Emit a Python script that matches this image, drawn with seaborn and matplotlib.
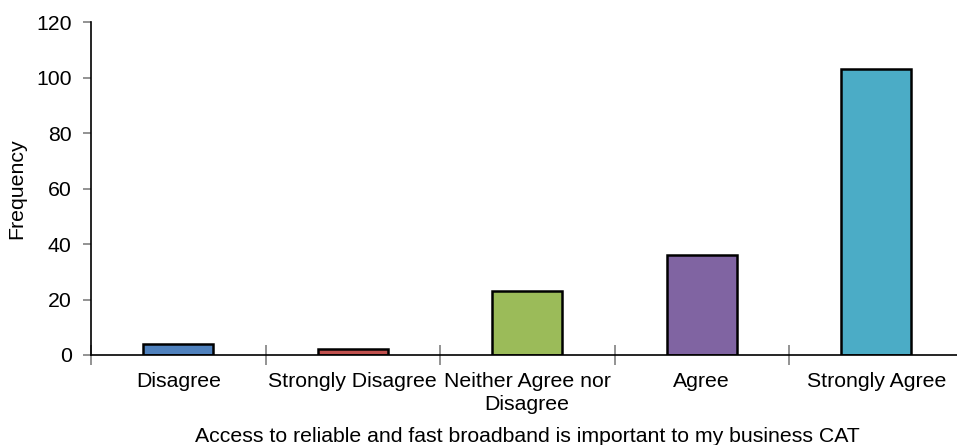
import matplotlib
matplotlib.use("Agg")
import matplotlib.pyplot as plt
import seaborn as sns
import pandas as pd

categories = ["Disagree", "Strongly Disagree", "Neither Agree nor\nDisagree", "Agree", "Strongly Agree"]
frequency = [4, 2, 23, 36, 103]
bar_colors = ["#4F81BD", "#C0504D", "#9BBB59", "#8064A2", "#4BACC6"]
y_ticks = [0, 20, 40, 60, 80, 100, 120]

sns.set_style("white")
plt.rcParams["font.family"] = ["Liberation Sans", "DejaVu Sans"]
plt.rcParams["text.color"] = "black"
plt.rcParams["axes.labelcolor"] = "black"
plt.rcParams["xtick.color"] = "black"
plt.rcParams["ytick.color"] = "black"

FS = 15.3

df = pd.DataFrame({"category": categories, "frequency": frequency})

fig = plt.figure(figsize=(9.57, 4.45), dpi=100)
ax = fig.add_axes([91 / 957, (445 - 355) / 445, 872.5 / 957, 333 / 445])

sns.barplot(data=df, x="category", y="frequency", hue="category",
            palette=bar_colors, saturation=1, width=0.4, edgecolor="black",
            linewidth=1.8, legend=False, ax=ax)

ax.set_xlim(-0.5, 4.5)
ax.set_ylim(0, 120)
ax.set_yticks(y_ticks)
ax.set_yticklabels([str(t) for t in y_ticks], fontsize=FS)

# category labels centered under bars, ticks between categories
ax.set_xticks(range(len(categories)))
ax.set_xticklabels(categories, fontsize=FS, linespacing=1.3)
ax.tick_params(axis="x", which="major", bottom=True, length=0, pad=12)
ax.set_xticks([i - 0.5 for i in range(len(categories) + 1)], minor=True)
ax.tick_params(axis="x", which="minor", bottom=True, direction="inout",
               length=14, color="#808080", width=1.2)
ax.tick_params(axis="y", which="major", left=True, direction="out", length=6,
               color="#808080", labelcolor="black", width=1.2, pad=8)

for side in ["top", "right"]:
    ax.spines[side].set_visible(False)
for side in ["left", "bottom"]:
    ax.spines[side].set_color("black")
    ax.spines[side].set_linewidth(1.2)

ax.set_ylabel("Frequency", fontsize=FS)
ax.yaxis.set_label_coords(-(91 - 26) / 872.5, 0.5)
ax.set_xlabel("Access to reliable and fast broadband is important to my business CAT",
              fontsize=FS, va="center")
ax.xaxis.set_label_coords((527 - 91) / 872.5, -(437 - 355) / 333)

fig.savefig("out.png", dpi=100)
